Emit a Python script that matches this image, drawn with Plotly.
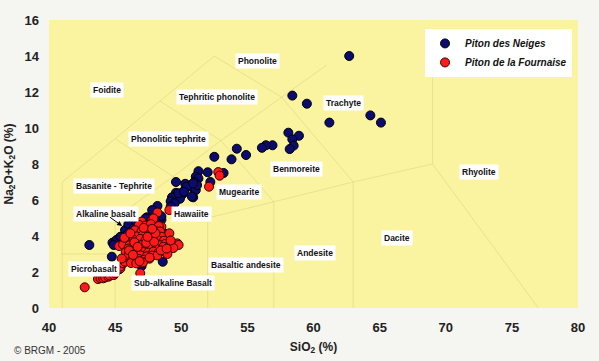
import plotly.graph_objects as go

# ---------------- data ----------------
neiges_sio2 = [62.7, 58.4, 59.5, 61.2, 64.3, 65.1,
               58.1, 58.9, 58.4, 58.5, 58.2, 56.9, 56.4, 56.1, 54.2, 54.9, 52.5, 53.8,
               53.2, 51.3, 52.0, 51.1, 51.3, 51.0, 49.6, 50.6, 50.3, 50.9, 51.1, 50.2,
               49.6, 50.1, 50.9, 49.3, 49.9, 49.2, 49.5, 48.2, 49.2, 47.9, 47.4, 48.5,
               48.5, 47.8, 47.3, 52.2, 50.4, 51.2, 50.9, 49.8, 50.2, 50.8,
               43.05, 44.75, 44.8, 45.1, 45.45, 45.75, 46.0, 46.6, 46.4, 46.9, 48.6,
               47.0, 46.1, 45.3, 44.9, 45.6, 45.4, 48.4, 48.7, 46.5, 47.0, 47.8, 48.3,
               46.2, 47.5, 45.9, 46.3, 47.7]
neiges_alk = [14.0, 11.8, 11.35, 10.3, 10.7, 10.3,
              9.74, 9.57, 9.37, 9.02, 8.83, 9.04, 9.04, 8.9, 8.85, 8.5, 8.4, 8.26,
              7.5, 7.6, 7.54, 7.3, 7.2, 7.0, 7.0, 6.8, 6.9, 6.65, 6.55, 6.5,
              6.4, 6.33, 6.15, 6.15, 6.07, 5.93, 5.82, 5.67, 5.63, 5.37, 5.04, 4.9,
              5.1, 5.44, 4.98, 7.0, 6.74, 6.83, 6.93, 6.37, 6.46, 6.19,
              3.5, 2.85, 3.63, 3.78, 3.93, 4.33, 4.65, 4.7, 4.43, 4.43, 2.57,
              2.33, 2.57, 2.15, 3.5, 3.5, 3.96, 4.5, 4.15, 3.8, 3.5, 3.0, 3.6,
              3.3, 4.1, 4.05, 4.2, 4.6]

fournaise_sio2 = [52.8, 52.9, 52.1, 49.1, 48.2, 47.0, 47.8, 48.4, 49.1, 47.9, 48.5,
                  49.7, 49.3, 49.8,
                  42.7, 43.7, 43.9, 44.1, 44.25, 44.5, 44.6, 44.9, 45.0, 45.4, 45.4,
                  45.6, 45.75, 45.9, 45.9, 46.9, 45.3,
                  46.8, 47.3, 47.7, 48.3,
                  46.5, 47.0, 47.5, 48.0, 48.4,
                  46.2, 46.6, 47.1, 47.6, 48.1, 48.5,
                  45.9, 46.4, 46.9, 47.3, 47.8, 48.2, 48.7,
                  45.6, 46.1, 46.6, 47.0, 47.5, 47.9, 48.4, 48.8, 49.1,
                  46.0, 46.4, 46.8, 47.2, 47.7, 48.1, 48.6, 49.0, 49.4,
                  45.8, 46.3, 46.7, 47.1, 47.5, 47.9, 48.3, 48.8,
                  46.0, 46.5, 46.9, 47.4, 47.8, 48.2,
                  46.3, 46.8, 47.2, 47.6,
                  46.2, 46.6, 47.1,
                  46.45, 47.35, 47.95, 48.65, 46.85, 47.45, 48.05, 47.15, 46.05, 48.95,
                  45.7, 46.7, 47.6, 48.45, 49.2, 46.35, 47.8, 48.9, 45.5, 46.15]
fournaise_alk = [7.55, 7.35, 6.74, 5.44, 5.3, 4.8, 4.9, 4.57, 4.15, 4.98, 4.52,
                 3.59, 3.41, 3.5,
                 1.15, 1.61, 1.65, 1.65, 1.7, 1.74, 1.8, 1.83, 1.93, 2.2, 2.3,
                 2.48, 2.57, 2.81, 2.94, 1.93, 3.44,
                 4.62, 4.58, 4.66, 4.55,
                 4.32, 4.28, 4.35, 4.3, 4.25,
                 4.02, 3.98, 4.05, 4.0, 4.04, 3.96,
                 3.8, 3.78, 3.84, 3.76, 3.82, 3.79, 3.74,
                 3.52, 3.48, 3.55, 3.5, 3.46, 3.53, 3.49, 3.56, 3.47,
                 3.3, 3.27, 3.32, 3.28, 3.34, 3.29, 3.31, 3.26, 3.33,
                 3.1, 3.12, 3.07, 3.11, 3.08, 3.13, 3.09, 3.12,
                 2.9, 2.88, 2.93, 2.87, 2.91, 2.92,
                 2.7, 2.72, 2.68, 2.74,
                 2.5, 2.48, 2.53,
                 3.65, 3.62, 3.68, 3.4, 2.6, 3.95, 4.15, 4.45, 3.2, 3.0,
                 3.9, 3.4, 2.8, 3.2, 3.75, 2.95, 4.4, 3.3, 2.75, 4.15]

# TAS (Le Bas et al., 1986) field boundaries, None separates segments
tas_sio2 = [41, 41, None, 41, 45, 48.4, 52.5, None, 41, 45, None, 45, 45, None,
            45, 49.4, 53, 57.6, 61, None, 45, 49.4, None, 48.4, 53, None,
            52.5, 57.6, None, 52, 52, 49.4, None, 57, 57, 53, None,
            63, 63, 57.6, None, 45, 52, 57, 63, 69, None, 69, 69, None, 69, 77]
tas_alk = [0, 7, None, 7, 9.4, 11.5, 14, None, 3, 3, None, 0, 5, None,
           5, 7.3, 9.3, 11.7, 13.5, None, 9.4, 7.3, None, 11.5, 9.3, None,
           14, 11.7, None, 0, 5, 7.3, None, 0, 5.9, 9.3, None,
           0, 7, 11.7, None, 5, 5, 5.9, 7, 8, None, 8, 12.8, None, 8, 0]

field_names = ["Phonolite", "Foidite", "Tephritic phonolite", "Phonolitic tephrite",
               "Trachyte", "Benmoreite", "Rhyolite", "Basanite - Tephrite", "Mugearite",
               "Alkaline basalt", "Hawaiite", "Dacite", "Andesite", "Basaltic andesite",
               "Picrobasalt", "Sub-alkaline Basalt"]
field_sio2 = [55.8, 44.4, 52.7, 49.0, 62.3, 58.7, 72.5, 44.9, 54.4,
              44.3, 50.8, 66.3, 60.1, 54.9, 43.4, 49.4]
field_alk = [13.7, 12.1, 11.7, 9.4, 11.4, 7.7, 7.55, 6.8, 6.45,
             5.2, 5.2, 3.9, 3.05, 2.4, 2.15, 1.4]

x_ticks = [40, 45, 50, 55, 60, 65, 70, 75, 80]
y_ticks = [0, 2, 4, 6, 8, 10, 12, 14, 16]

FONT = "Arial, Liberation Sans, Helvetica, sans-serif"

fig = go.Figure()

fig.add_trace(go.Scatter(x=tas_sio2, y=tas_alk, mode="lines",
                         line=dict(color="rgba(190,180,90,0.28)", width=1),
                         hoverinfo="skip", showlegend=False, connectgaps=False))

fig.add_trace(go.Scatter(x=neiges_sio2, y=neiges_alk, mode="markers",
                         name="<b><i>Piton des Neiges</i></b>",
                         marker=dict(color="#0b0b70", size=9,
                                     line=dict(color="#000000", width=1))))
fig.add_trace(go.Scatter(x=fournaise_sio2, y=fournaise_alk, mode="markers",
                         name="<b><i>Piton de la Fournaise</i></b>",
                         marker=dict(color="#ff1a1a", size=9,
                                     line=dict(color="#330000", width=1))))

for name, xs, ys in zip(field_names, field_sio2, field_alk):
    fig.add_annotation(x=xs, y=ys, text="<b>" + name + "</b>", showarrow=False,
                       bgcolor="white", borderpad=2,
                       font=dict(family=FONT, size=8.5, color="#111111"))

# arrow for Alkaline basalt
fig.add_annotation(x=45.53, y=4.56, ax=44.5, ay=5.1, axref="x", ayref="y",
                   text="", showarrow=True, arrowhead=2, arrowsize=1,
                   arrowwidth=1, arrowcolor="#000000")

fig.add_annotation(xref="paper", yref="paper", x=-0.07, y=-0.149,
                   xanchor="left", yanchor="middle", showarrow=False,
                   text="© BRGM - 2005",
                   font=dict(family=FONT, size=10, color="#333333"))

fig.update_layout(
    width=599, height=361,
    margin=dict(l=49, r=21, t=20, b=53, autoexpand=False),
    paper_bgcolor="#f5f5f1",
    plot_bgcolor="#faf3a0",
    font=dict(family=FONT, color="#222222"),
    legend=dict(x=0.9887, y=0.969, xanchor="right", yanchor="top",
                bgcolor="white", borderwidth=0,
                font=dict(family=FONT, size=10, color="#111111"),
                tracegroupgap=0, itemwidth=30),
    xaxis=dict(range=[40, 80], tickvals=x_ticks, ticktext=[str(v) for v in x_ticks],
               showgrid=False, zeroline=False, showline=False, ticks="",
               automargin=False, ticklabelstandoff=10,
               tickfont=dict(family=FONT, size=13, weight="bold", color="#222222"),
               title=dict(text="<b>SiO<sub>2</sub> (%)</b>", standoff=8,
                          font=dict(family=FONT, size=12, color="#222222"))),
    yaxis=dict(range=[0, 16], tickvals=y_ticks, ticktext=[str(v) for v in y_ticks],
               showgrid=False, zeroline=False, showline=False, ticks="",
               automargin=False, ticklabelstandoff=9,
               tickfont=dict(family=FONT, size=13, weight="bold", color="#222222"),
               title=dict(text="<b>Na<sub>2</sub>O+K<sub>2</sub>O (%)</b>", standoff=8,
                          font=dict(family=FONT, size=12, color="#222222"))),
    showlegend=True,
)

fig.write_html("out.html", config={"displayModeBar": False},
               post_script="document.body.style.margin='0';document.body.style.background='#f5f5f1';")
